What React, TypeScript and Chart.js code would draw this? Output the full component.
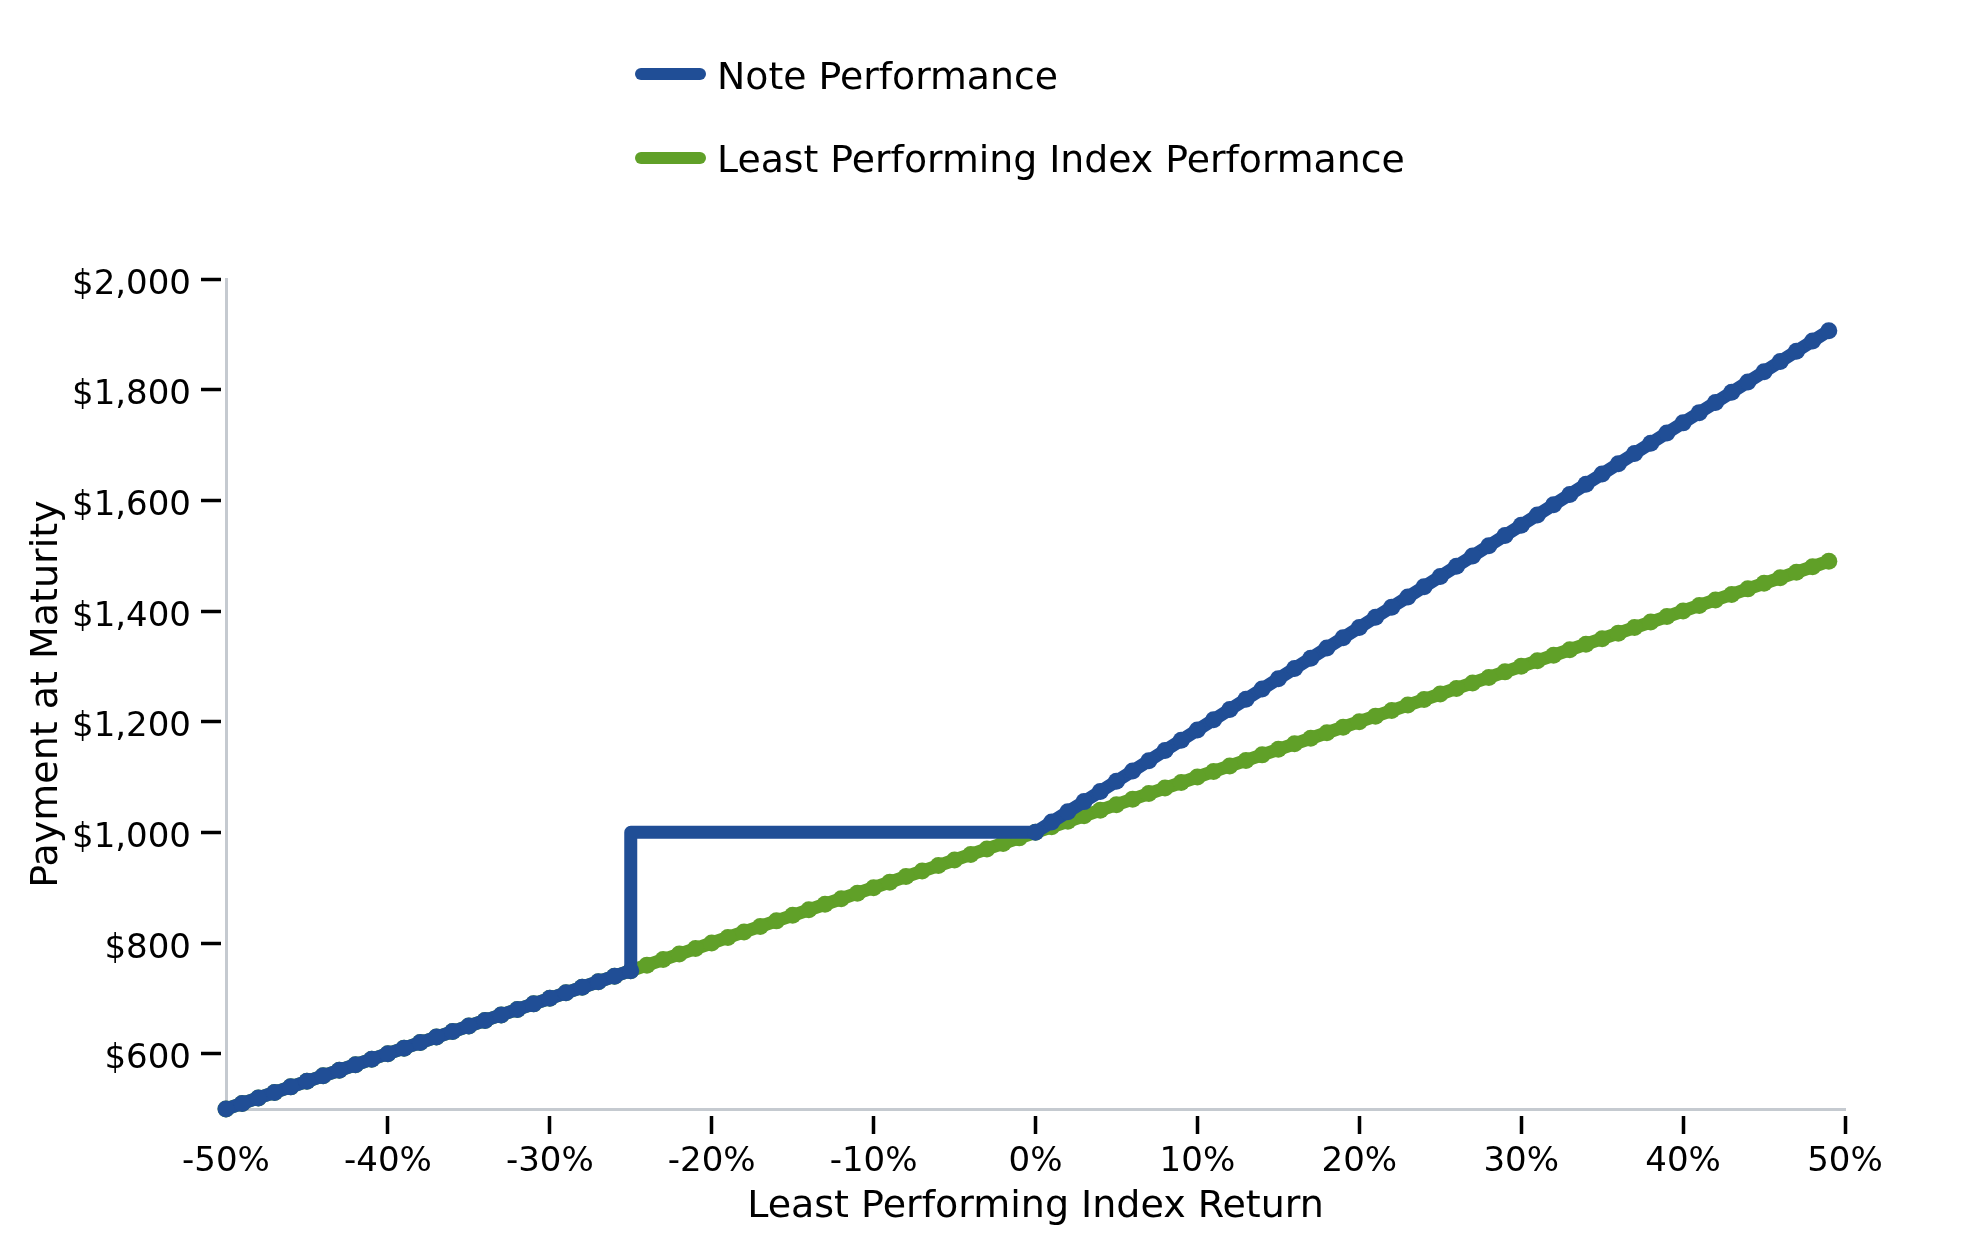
import React, { useEffect, useRef } from "react";
import { Chart, registerables } from "chart.js";

Chart.register(...registerables);

// Least performing index return (%), one point per 1%
const indexReturns = [
  -50, -49, -48, -47, -46, -45, -44, -43, -42, -41, -40, -39, -38, -37, -36, -35, -34, -33, -32, -31,
  -30, -29, -28, -27, -26, -25, -24, -23, -22, -21, -20, -19, -18, -17, -16, -15, -14, -13, -12, -11,
  -10, -9, -8, -7, -6, -5, -4, -3, -2, -1, 0, 1, 2, 3, 4, 5, 6, 7, 8, 9,
  10, 11, 12, 13, 14, 15, 16, 17, 18, 19, 20, 21, 22, 23, 24, 25, 26, 27, 28, 29,
  30, 31, 32, 33, 34, 35, 36, 37, 38, 39, 40, 41, 42, 43, 44, 45, 46, 47, 48, 49,
];

// Least Performing Index Performance ($)
const indexValues = [
  500, 510, 520, 530, 540, 550, 560, 570, 580, 590, 600, 610, 620, 630, 640, 650, 660, 670, 680, 690,
  700, 710, 720, 730, 740, 750, 760, 770, 780, 790, 800, 810, 820, 830, 840, 850, 860, 870, 880, 890,
  900, 910, 920, 930, 940, 950, 960, 970, 980, 990, 1000, 1010, 1020, 1030, 1040, 1050, 1060, 1070, 1080, 1090,
  1100, 1110, 1120, 1130, 1140, 1150, 1160, 1170, 1180, 1190, 1200, 1210, 1220, 1230, 1240, 1250, 1260, 1270, 1280, 1290,
  1300, 1310, 1320, 1330, 1340, 1350, 1360, 1370, 1380, 1390, 1400, 1410, 1420, 1430, 1440, 1450, 1460, 1470, 1480, 1490,
];

// Note returns (%), includes the barrier jump at -25%
const noteReturns = [
  -50, -49, -48, -47, -46, -45, -44, -43, -42, -41, -40, -39, -38, -37, -36, -35, -34, -33, -32, -31,
  -30, -29, -28, -27, -26, -25, -25, -24, -23, -22, -21, -20, -19, -18, -17, -16, -15, -14, -13, -12, -11,
  -10, -9, -8, -7, -6, -5, -4, -3, -2, -1, 0, 1, 2, 3, 4, 5, 6, 7, 8, 9,
  10, 11, 12, 13, 14, 15, 16, 17, 18, 19, 20, 21, 22, 23, 24, 25, 26, 27, 28, 29,
  30, 31, 32, 33, 34, 35, 36, 37, 38, 39, 40, 41, 42, 43, 44, 45, 46, 47, 48, 49,
];

// Note Performance ($)
const noteValues = [
  500, 510, 520, 530, 540, 550, 560, 570, 580, 590, 600, 610, 620, 630, 640, 650, 660, 670, 680, 690,
  700, 710, 720, 730, 740, 750, 1000, 1000, 1000, 1000, 1000, 1000, 1000, 1000, 1000, 1000, 1000, 1000, 1000, 1000, 1000,
  1000, 1000, 1000, 1000, 1000, 1000, 1000, 1000, 1000, 1000, 1000, 1018.5, 1037, 1055.5, 1074, 1092.5, 1111, 1129.5, 1148, 1166.5,
  1185, 1203.5, 1222, 1240.5, 1259, 1277.5, 1296, 1314.5, 1333, 1351.5, 1370, 1388.5, 1407, 1425.5, 1444, 1462.5, 1481, 1499.5, 1518, 1536.5,
  1555, 1573.5, 1592, 1610.5, 1629, 1647.5, 1666, 1684.5, 1703, 1721.5, 1740, 1758.5, 1777, 1795.5, 1814, 1832.5, 1851, 1869.5, 1888, 1906.5,
];

const xTickValues = [-50, -40, -30, -20, -10, 0, 10, 20, 30, 40, 50];
const yTickValues = [600, 800, 1000, 1200, 1400, 1600, 1800, 2000];

const seriesNames = ["Note Performance", "Least Performing Index Performance"];
const xTitle = "Least Performing Index Return";
const yTitle = "Payment at Maturity";

const BLUE = "#204E96";
const GREEN = "#60A028";
const AXIS_GRAY = "#c5cad0";
const FONT = "'DejaVu Sans', sans-serif";

export default function App() {
  const canvasRef = useRef<HTMLCanvasElement | null>(null);

  useEffect(() => {
    const canvas = canvasRef.current;
    if (!canvas) return;

    const noteData = noteReturns.map((x, i) => ({ x, y: noteValues[i] }));
    const indexData = indexReturns.map((x, i) => ({ x, y: indexValues[i] }));

    const makeGrid = (dash: number[]) => ({
      display: true,
      drawOnChartArea: false,
      drawTicks: true,
      tickLength: 25,
      tickWidth: 3.5,
      tickColor: (ctx: any) => (ctx.tick && ctx.tick.value === -50 ? "rgba(0,0,0,0)" : "#000000"),
      tickBorderDash: dash,
    });

    const chart = new Chart(canvas, {
      type: "line",
      data: {
        datasets: [
          {
            label: seriesNames[0],
            data: noteData,
            borderColor: BLUE,
            backgroundColor: BLUE,
            borderWidth: 13,
            borderJoinStyle: "round",
            borderCapStyle: "round",
            pointRadius: (ctx: any) => {
              const p = ctx.raw;
              return p && p.y === 1000 && p.x < 0 ? 0 : 8.5;
            },
            pointBackgroundColor: BLUE,
            pointBorderWidth: 0,
            pointHoverRadius: 8.5,
            tension: 0,
            clip: false as any,
          },
          {
            label: seriesNames[1],
            data: indexData,
            borderColor: GREEN,
            backgroundColor: GREEN,
            borderWidth: 13,
            borderJoinStyle: "round",
            borderCapStyle: "round",
            pointRadius: 8.5,
            pointBackgroundColor: GREEN,
            pointBorderWidth: 0,
            pointHoverRadius: 8.5,
            tension: 0,
            clip: false as any,
          },
        ],
      },
      options: {
        responsive: false,
        animation: false,
        events: [],
        layout: { padding: { top: 279, right: 134, left: 0, bottom: 0 } },
        plugins: {
          legend: { display: false },
          tooltip: { enabled: false },
        },
        scales: {
          x: {
            type: "linear",
            min: -50,
            max: 50,
            afterBuildTicks: (scale: any) => {
              scale.ticks = xTickValues.map((v) => ({ value: v }));
            },
            afterFit: (scale: any) => {
              scale.height = 141;
            },
            grid: makeGrid([0, 5, 20, 300]) as any,
            border: { display: true, color: AXIS_GRAY, width: 3 },
            ticks: {
              padding: 8,
              color: "#000000",
              font: { family: FONT, size: 34 },
              maxRotation: 0,
              autoSkip: false,
              callback: (v: any) => `${v}%`,
            },
            title: {
              display: true,
              text: xTitle,
              color: "#000000",
              font: { family: FONT, size: 38 },
              padding: { top: 0, bottom: 20 },
            },
          },
          y: {
            type: "linear",
            min: 500,
            max: 2000,
            afterBuildTicks: (scale: any) => {
              scale.ticks = yTickValues.map((v) => ({ value: v }));
            },
            afterFit: (scale: any) => {
              scale.width = 226;
            },
            grid: makeGrid([20, 300]) as any,
            border: { display: true, color: AXIS_GRAY, width: 3 },
            ticks: {
              padding: 10,
              labelOffset: 6,
              color: "#000000",
              font: { family: FONT, size: 34 },
              autoSkip: false,
              callback: (v: any) => "$" + Number(v).toLocaleString("en-US"),
            },
            title: {
              display: true,
              text: yTitle,
              color: "#000000",
              font: { family: FONT, size: 38 },
              padding: { top: 24, bottom: 0 },
            },
          },
        },
      },
    });

    return () => {
      chart.destroy();
    };
  }, []);

  const legendRows = [
    { name: seriesNames[0], color: BLUE, center: 74, baseline: 90 },
    { name: seriesNames[1], color: GREEN, center: 158, baseline: 173 },
  ];

  return (
    <div style={{ position: "absolute", left: 0, top: 0, width: 1979, height: 1250, background: "#ffffff", overflow: "hidden" }}>
      <canvas ref={canvasRef} width={1979} height={1250} style={{ position: "absolute", left: 0, top: 0, width: 1979, height: 1250 }} />
      {legendRows.map((r) => (
        <React.Fragment key={r.name}>
          <div
            style={{
              position: "absolute",
              left: 635,
              top: r.center - 6,
              width: 71,
              height: 12,
              borderRadius: 6,
              background: r.color,
            }}
          />
          <div
            style={{
              position: "absolute",
              left: 717,
              top: r.baseline - 36,
              fontFamily: FONT,
              fontSize: 37.8,
              lineHeight: "45px",
              color: "#000000",
              whiteSpace: "nowrap",
            }}
          >
            {r.name}
          </div>
        </React.Fragment>
      ))}
    </div>
  );
}
